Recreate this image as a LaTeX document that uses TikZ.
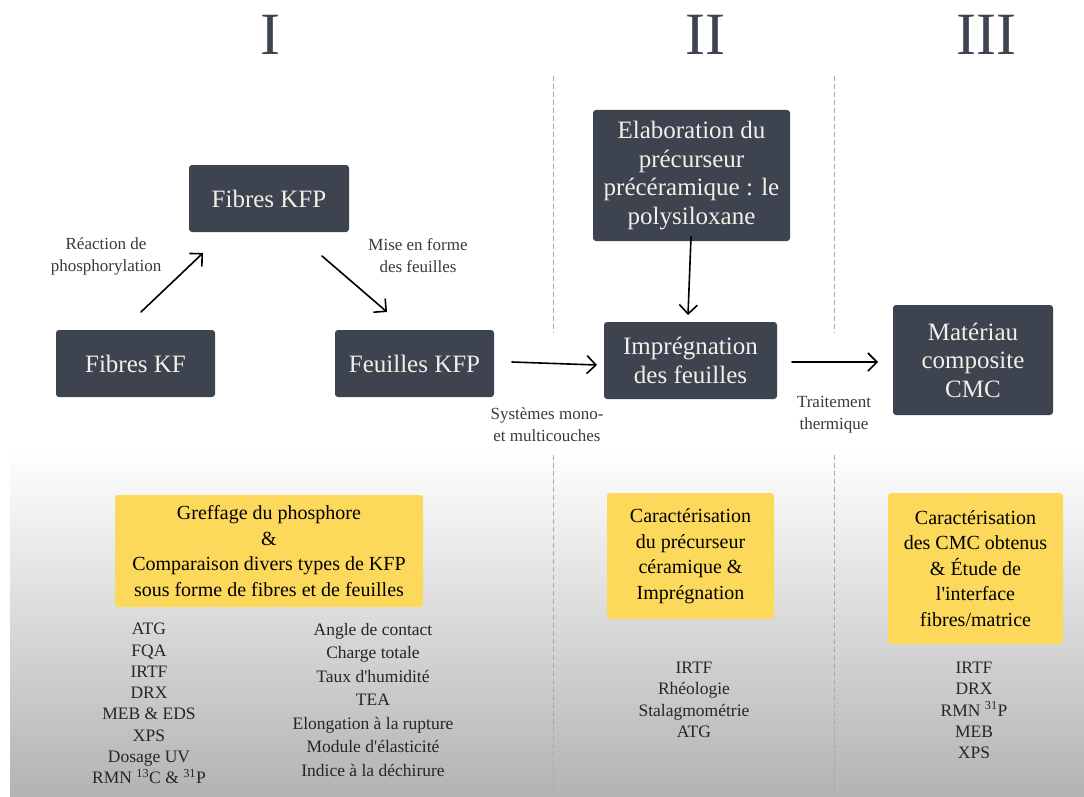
\documentclass[tikz,border=0pt]{standalone}
\usepackage{fontspec}
\setmainfont{Liberation Serif}
\newfontfamily\aposfont{Liberation Serif}[Ligatures=ResetAll]
\usetikzlibrary{arrows.meta}
\definecolor{boxdark}{HTML}{3E4350}
\definecolor{boxtext}{HTML}{F2EFE6}
\definecolor{yel}{HTML}{FDD95B}
\definecolor{roman}{HTML}{3E4350}
\definecolor{lbl}{HTML}{3A3A3A}
\definecolor{dashgray}{HTML}{A8A8A8}
\definecolor{gradbot}{HTML}{B3B3B3}
\newcommand{\sq}{{\aposfont'}}
\tikzset{
  darkbox/.style={fill=boxdark, rounded corners=3pt, text=boxtext, align=center,
    inner sep=0pt, font=\fontsize{25}{28.5}\selectfont},
  yelbox/.style={fill=yel, rounded corners=3pt, text=black, align=center,
    inner sep=0pt, font=\fontsize{20}{25.5}\selectfont},
  romanlbl/.style={text=roman, font=\fontsize{60}{60}\selectfont, inner sep=0pt},
  arrlbl/.style={text=lbl, align=center, font=\fontsize{17}{22}\selectfont, inner sep=0pt},
  listtxt/.style={text=black!85, align=center, inner sep=0pt},
  flow/.style={line width=1.6pt, line cap=round, -{Straight Barb[length=9pt,width=18pt,line width=1.6pt]}},
  sep/.style={dashgray, line width=1pt, dash pattern=on 5pt off 3pt}
}
\begin{document}
\begin{tikzpicture}[x=1pt,y=-1pt]
\useasboundingbox (0,0) rectangle (1084,797);
\fill[white] (0,0) rectangle (1084,797);
\shade[top color=white, bottom color=gradbot] (10,450) rectangle (1084,797);

% roman numerals
\node[romanlbl] (r1) at (270,35) {I};
\node[romanlbl] (r2) at (705,35) {II};
\node[romanlbl] (r3) at (986,35) {III};

% separators
\coordinate (s1a) at (553,76); \coordinate (s1b) at (553,333);
\coordinate (s1c) at (553,455); \coordinate (s1d) at (553,792);
\coordinate (s2a) at (834,76); \coordinate (s2b) at (834,333);
\coordinate (s2c) at (834,455); \coordinate (s2d) at (834,792);
\draw[sep] (s1a) -- (s1b);
\draw[sep] (s1c) -- (s1d);
\draw[sep] (s2a) -- (s2b);
\draw[sep] (s2c) -- (s2d);

% dark boxes
\node[darkbox, minimum width=159pt, minimum height=67pt] (kf) at (135.5,363.5) {Fibres KF};
\node[darkbox, minimum width=160pt, minimum height=67pt] (kfp) at (269,198.5) {Fibres KFP};
\node[darkbox, minimum width=159pt, minimum height=67pt] (fkfp) at (414.5,363.5) {Feuilles KFP};
\node[darkbox, minimum width=197pt, minimum height=131pt] (elab) at (691.5,175.5) {Elaboration du\\pr\'ecurseur\\pr\'ec\'eramique : le\\polysiloxane};
\node[darkbox, minimum width=173pt, minimum height=77pt] (impr) at (690.5,360.5) {Impr\'egnation\\des feuilles};
\node[darkbox, minimum width=160pt, minimum height=110pt] (cmc) at (973,360) {Mat\'eriau\\composite\\CMC};

% arrow endpoints
\coordinate (a1s) at (141,312); \coordinate (a1e) at (203,253);
\coordinate (a2s) at (322,256); \coordinate (a2e) at (387,312);
\coordinate (a3s) at (512,362); \coordinate (a3e) at (597,365);
\coordinate (a4s) at (691,237); \coordinate (a4e) at (688,315);
\coordinate (a5s) at (792,362); \coordinate (a5e) at (878,362);
\draw[flow] (a1s) -- (a1e);
\draw[flow] (a2s) -- (a2e);
\draw[flow] (a3s) -- (a3e);
\draw[flow] (a4s) -- (a4e);
\draw[flow] (a5s) -- (a5e);

% arrow labels
\node[arrlbl] (l1) at (106,256) {R\'eaction de\\phosphorylation};
\node[arrlbl] (l2) at (418,256) {Mise en forme\\des feuilles};
\node[arrlbl] (l3) at (547,424.5) {Syst\`emes mono-\\et multicouches};
\node[arrlbl] (l4) at (834,414.5) {Traitement\\thermique};

% yellow boxes
\node[yelbox, minimum width=308pt, minimum height=112pt] (y1) at (269,551) {Greffage du phosphore\\\&\\Comparaison divers types de KFP\\sous forme de fibres et de feuilles};
\node[yelbox, minimum width=167pt, minimum height=126pt] (y2) at (690.5,556) {Caract\'erisation\\du pr\'ecurseur\\c\'eramique \&\\Impr\'egnation};
\node[yelbox, minimum width=175pt, minimum height=151pt] (y3) at (975.5,568.5) {Caract\'erisation\\des CMC obtenus\\\& \'Etude de\\l\sq interface\\fibres/matrice};

% lists
\node[listtxt, font=\fontsize{17.5}{21.3}\selectfont, anchor=north] (list1) at (149,623) {ATG\\FQA\\IRTF\\DRX\\MEB \& EDS\\XPS\\Dosage UV\\RMN \textsuperscript{13}C \& \textsuperscript{31}P};
\node[listtxt, font=\fontsize{17.5}{23.5}\selectfont, anchor=north] (list2) at (373,623) {Angle de contact\\Charge totale\\Taux d\sq humidit\'e\\TEA\\Elongation \`a la rupture\\Module d\sq \'elasticit\'e\\Indice \`a la d\'echirure};
\node[listtxt, font=\fontsize{17.5}{21.3}\selectfont, anchor=north] (list3) at (694,662) {IRTF\\Rh\'eologie\\Stalagmom\'etrie\\ATG};
\node[listtxt, font=\fontsize{17.5}{21.3}\selectfont, anchor=north] (list4) at (974,662) {IRTF\\DRX\\RMN \textsuperscript{31}P\\MEB\\XPS};
\end{tikzpicture}
\end{document}
